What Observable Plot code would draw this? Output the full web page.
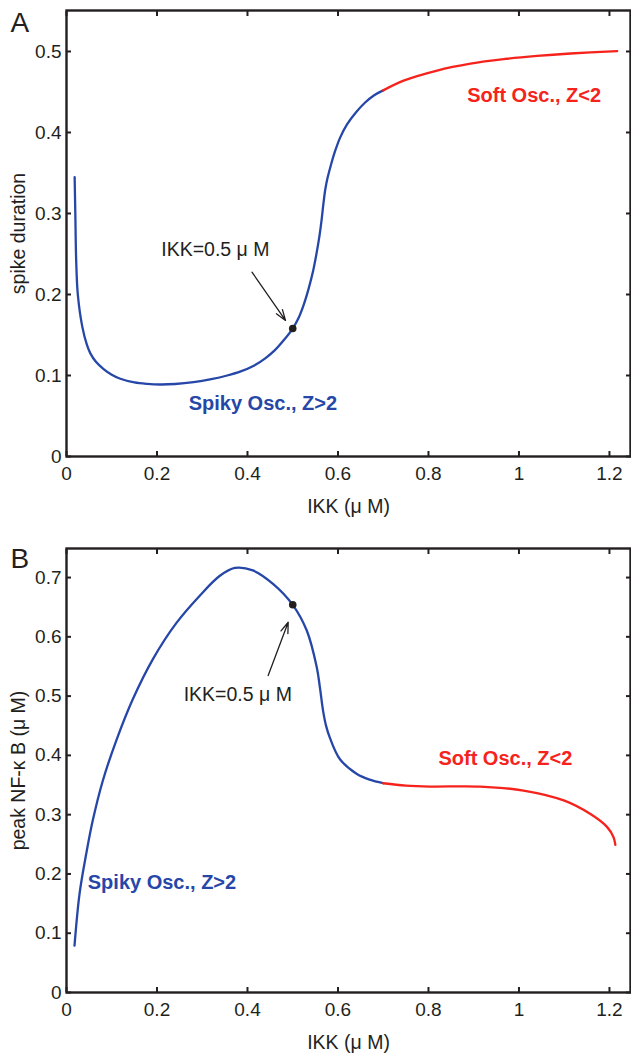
<!DOCTYPE html>
<html>
<head>
<meta charset="utf-8">
<script src="https://cdn.jsdelivr.net/npm/d3@7"></script>
<script src="https://cdn.jsdelivr.net/npm/@observablehq/plot@0.6"></script>
<style>
  html, body { margin: 0; padding: 0; background: #fff; }
  #chart svg { display: block; }
</style>
</head>
<body>
<div id="chart"></div>
<script>
// ---------- Data ----------
// Panel A: spike duration vs IKK
const ikkA_blue = [0.018, 0.0195, 0.0214, 0.025, 0.035, 0.045, 0.053, 0.065, 0.082, 0.10, 0.119, 0.15, 0.178, 0.208, 0.24, 0.281, 0.32, 0.355, 0.385, 0.414, 0.44, 0.46, 0.48, 0.5, 0.512, 0.524, 0.535, 0.545, 0.553, 0.559, 0.564, 0.568, 0.572, 0.577, 0.584, 0.593, 0.605, 0.62, 0.64, 0.66, 0.68, 0.7];
const durA_blue = [0.345, 0.30, 0.242, 0.2, 0.16, 0.138, 0.127, 0.117, 0.108, 0.101, 0.096, 0.0915, 0.0897, 0.0889, 0.0895, 0.0918, 0.0955, 0.1, 0.105, 0.112, 0.1215, 0.131, 0.1435, 0.158, 0.170, 0.187, 0.207, 0.229, 0.252, 0.272, 0.293, 0.313, 0.330, 0.344, 0.359, 0.376, 0.394, 0.410, 0.425, 0.437, 0.446, 0.452];
const ikkA_red = [0.7, 0.745, 0.819, 0.893, 0.966, 1.04, 1.114, 1.217];
const durA_red = [0.452, 0.464, 0.4765, 0.485, 0.4905, 0.4945, 0.4975, 0.5005];

// Panel B: peak NF-kB vs IKK
const ikkB_blue = [0.0177, 0.0288, 0.0436, 0.058, 0.0804, 0.11, 0.147, 0.191, 0.243, 0.294, 0.339, 0.372, 0.412, 0.457, 0.5, 0.531, 0.553, 0.56, 0.567, 0.574, 0.582, 0.604, 0.641, 0.67, 0.7];
const nfkbB_blue = [0.079, 0.1665, 0.234, 0.29, 0.3576, 0.425, 0.4955, 0.5625, 0.6235, 0.669, 0.703, 0.7163, 0.712, 0.689, 0.654, 0.6106, 0.549, 0.515, 0.4756, 0.449, 0.43, 0.394, 0.369, 0.359, 0.353];
const ikkB_red = [0.7, 0.75, 0.804, 0.914, 1.01, 1.099, 1.158, 1.195, 1.209, 1.213];
const nfkbB_red = [0.353, 0.349, 0.3474, 0.3474, 0.3407, 0.324, 0.301, 0.279, 0.262, 0.249];

// Highlighted point at IKK = 0.5
const markIKK = [0.5];
const markA = [0.158];
const markB = [0.654];

// Annotation arrows (tail -> head)
const arrowA_x = [0.410, 0.484];
const arrowA_y = [0.2275, 0.168];
const arrowB_x = [0.4457, 0.490];
const arrowB_y = [0.5347, 0.6246];

// Annotation texts and anchors
const annoText = "IKK=0.5 \u03BC M";
const annoA = [0.329, 0.255];
const annoB = [0.3786, 0.503];
const spikyLabel = "Spiky Osc., Z>2";
const softLabel = "Soft Osc., Z<2";
const spikyA = [0.27, 0.065];
const softA = [0.8855, 0.446];
const spikyB = [0.047, 0.185];
const softB = [0.822, 0.395];

// Ticks
const xTicks = [0, 0.2, 0.4, 0.6, 0.8, 1, 1.2];
const xTickLabels = ["0", "0.2", "0.4", "0.6", "0.8", "1", "1.2"];
const yTicksA = [0, 0.1, 0.2, 0.3, 0.4, 0.5];
const yTickLabelsA = ["0", "0.1", "0.2", "0.3", "0.4", "0.5"];
const yTicksB = [0, 0.1, 0.2, 0.3, 0.4, 0.5, 0.6, 0.7];
const yTickLabelsB = ["0", "0.1", "0.2", "0.3", "0.4", "0.5", "0.6", "0.7"];

const xLabel = "IKK (\u03BC M)";
const yLabelA = "spike duration";
const yLabelB = "peak NF-\u03BA B (\u03BC M)";

// ---------- Styles ----------
const BLUE = "#2647a8";
const RED = "#f5231c";
const INK = "#231f20";
const FONT = '"Liberation Sans", Arial, Helvetica, sans-serif';

function pts(xs, ys) { return xs.map((x, i) => ({x, y: ys[i]})); }

function panel(o) {
  const fmtX = d => xTickLabels[xTicks.indexOf(d)];
  const fmtY = d => o.yLabels[o.yTicks.indexOf(d)];
  return Plot.plot({
    width: 631,
    height: o.height,
    marginTop: o.marginTop,
    marginBottom: o.marginBottom,
    marginLeft: 66,
    marginRight: 1,
    style: {fontFamily: FONT, fontSize: "19px", color: INK, background: "white", overflow: "visible"},
    x: {domain: [0, 1.2465]},
    y: {domain: [0, o.yMax]},
    marks: [
      // tick labels
      Plot.axisX({anchor: "bottom", ticks: xTicks, tickSize: 0, tickPadding: 10, tickFormat: fmtX, label: null, fill: INK, fontSize: 19}),
      Plot.axisY({anchor: "left", ticks: o.yTicks, tickSize: 0, tickPadding: 5, tickFormat: fmtY, label: null, fill: INK, fontSize: 19}),
      // inward tick marks on all four sides
      Plot.axisX({anchor: "bottom", ticks: xTicks, tickSize: 5, dy: -5, fill: "none", label: null, stroke: INK, strokeWidth: 2}),
      Plot.axisX({anchor: "top", ticks: xTicks, tickSize: 5, dy: 5, fill: "none", label: null, stroke: INK, strokeWidth: 2}),
      Plot.axisY({anchor: "left", ticks: o.yTicks, tickSize: 5, dx: 5, fill: "none", label: null, stroke: INK, strokeWidth: 2}),
      Plot.axisY({anchor: "right", ticks: o.yTicks, tickSize: 5, dx: -5, fill: "none", label: null, stroke: INK, strokeWidth: 2}),
      Plot.frame({stroke: INK, strokeWidth: 2.4}),
      // curves
      Plot.line(o.blue, {x: "x", y: "y", stroke: BLUE, strokeWidth: 2.3, curve: "catmull-rom"}),
      Plot.line(o.red, {x: "x", y: "y", stroke: RED, strokeWidth: 2.3, curve: "catmull-rom"}),
      // highlighted point and arrow
      Plot.arrow([0], {x1: () => o.arrowX[0], y1: () => o.arrowY[0], x2: () => o.arrowX[1], y2: () => o.arrowY[1], stroke: INK, strokeWidth: 1.3, headLength: 13, headAngle: 38}),
      Plot.dot(pts(markIKK, o.mark), {x: "x", y: "y", r: 3.8, fill: INK, stroke: "none"}),
      // annotations
      Plot.text([annoText], {text: d => d, x: () => o.anno[0], y: () => o.anno[1], fontSize: 19.5, fill: INK, textAnchor: "middle"}),
      Plot.text([spikyLabel], {text: d => d, x: () => o.spiky[0], y: () => o.spiky[1], fontSize: 20, fontWeight: "bold", fill: BLUE, textAnchor: "start"}),
      Plot.text([softLabel], {text: d => d, x: () => o.soft[0], y: () => o.soft[1], fontSize: 20, fontWeight: "bold", fill: RED, textAnchor: "start"}),
      // axis labels
      Plot.text([xLabel], {text: d => d, frameAnchor: "bottom", dy: 50, lineAnchor: "middle", fontSize: 19.5, fill: INK}),
      Plot.text([o.yLabel], {text: d => d, frameAnchor: "left", dx: -48, rotate: -90, lineAnchor: "middle", textAnchor: "middle", fontSize: 19.5, fill: INK}),
      // panel letter
      Plot.text([o.letter], {text: d => d, frameAnchor: "top-left", dx: -56, dy: o.letterDy, textAnchor: "start", lineAnchor: "middle", fontSize: 28, fill: INK})
    ]
  });
}

const chart = document.getElementById("chart");
chart.append(panel({
  height: 527, marginTop: 10, marginBottom: 71, yMax: 0.5506,
  yTicks: yTicksA, yLabels: yTickLabelsA,
  blue: pts(ikkA_blue, durA_blue), red: pts(ikkA_red, durA_red),
  mark: markA, arrowX: arrowA_x, arrowY: arrowA_y,
  anno: annoA, spiky: spikyA, soft: softA,
  yLabel: yLabelA, letter: "A", letterDy: 13
}));
chart.append(panel({
  height: 526, marginTop: 21, marginBottom: 61, yMax: 0.749,
  yTicks: yTicksB, yLabels: yTickLabelsB,
  blue: pts(ikkB_blue, nfkbB_blue), red: pts(ikkB_red, nfkbB_red),
  mark: markB, arrowX: arrowB_x, arrowY: arrowB_y,
  anno: annoB, spiky: spikyB, soft: softB,
  yLabel: yLabelB, letter: "B", letterDy: 10.5
}));
</script>
</body>
</html>
